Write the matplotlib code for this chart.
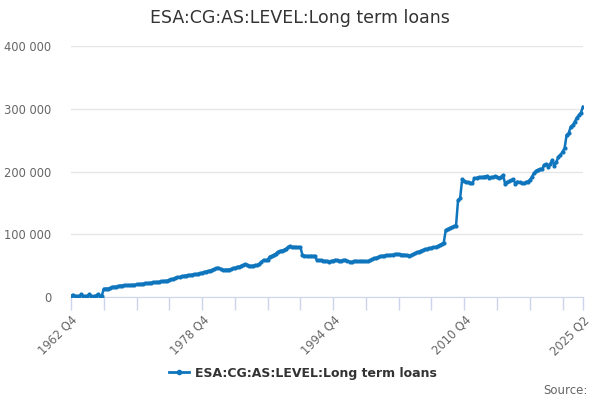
import matplotlib
matplotlib.use("Agg")
import matplotlib.pyplot as plt
import numpy as np
from matplotlib.ticker import FuncFormatter

TITLE = "ESA:CG:AS:LEVEL:Long term loans"
START_YEAR, START_Q = 1962, 4

# quarterly levels, thousands (1962 Q4 .. 2025 Q2)
LEVELS_K = [
    1.5,                         # 1962 Q4
    3.5, 1.5, 1.0, 1.5,          # 1963
    4.0, 1.5, 1.2, 1.5,          # 1964
    4.0, 1.5, 1.2, 1.8,          # 1965
    4.2, 1.8, 1.5, 13.0,         # 1966
    13.2, 13.5, 14.0, 16.0,      # 1967
    16.2, 16.5, 17.0, 18.2,      # 1968
    18.3, 18.5, 18.6, 18.8,      # 1969
    19.0, 19.2, 19.4, 20.0,      # 1970
    20.3, 20.6, 21.0, 21.8,      # 1971
    22.0, 22.3, 22.6, 23.4,      # 1972
    23.6, 23.8, 24.2, 24.8,      # 1973
    25.2, 25.5, 26.0, 27.5,      # 1974
    28.0, 29.0, 30.5, 31.5,      # 1975
    32.0, 32.8, 33.5, 34.2,      # 1976
    34.6, 35.0, 35.5, 36.0,      # 1977
    36.3, 37.0, 37.5, 38.5,      # 1978
    39.5, 40.5, 41.2, 42.0,      # 1979
    43.5, 44.5, 45.5, 46.7,      # 1980
    45.0, 43.0, 43.3, 43.6,      # 1981
    43.8, 44.0, 45.5, 46.5,      # 1982
    47.5, 48.3, 49.5, 51.0,      # 1983
    52.0, 51.5, 50.0, 49.4,      # 1984
    50.0, 50.5, 51.0, 53.0,      # 1985
    56.0, 59.0, 58.5, 59.0,      # 1986
    64.3, 65.5, 67.0, 69.0,      # 1987
    72.0, 73.0, 74.0, 75.0,      # 1988
    77.0, 79.0, 81.3, 79.0,      # 1989
    80.0, 79.5, 79.0, 79.5,      # 1990
    67.0, 66.0, 65.5, 65.0,      # 1991
    65.5, 65.0, 65.3, 59.0,      # 1992
    58.5, 58.5, 58.0, 57.5,      # 1993
    57.0, 56.3, 57.0, 58.0,      # 1994
    59.0, 58.5, 58.0, 57.8,      # 1995
    58.5, 59.0, 57.5, 56.5,      # 1996
    55.8, 57.0, 57.5, 56.8,      # 1997
    57.0, 57.4, 57.0, 56.8,      # 1998
    56.9, 58.5, 60.0, 61.7,      # 1999
    62.5, 63.5, 64.9, 65.5,      # 2000
    66.0, 66.5, 66.5, 67.0,      # 2001
    67.5, 68.0, 68.5, 68.0,      # 2002
    67.5, 67.5, 67.0, 66.5,      # 2003
    65.8, 66.5, 68.0, 69.6,      # 2004
    71.0, 72.5, 74.0, 75.0,      # 2005
    76.0, 77.0, 77.6, 78.5,      # 2006
    79.2, 80.0, 81.0, 82.9,      # 2007
    84.5, 86.6, 106.8, 108.5,    # 2008
    110.0, 111.0, 112.5, 113.7,  # 2009
    154.6, 157.3, 187.6, 185.0,  # 2010
    183.3, 182.5, 182.0, 181.2,  # 2011
    189.1, 190.0, 190.7, 190.5,  # 2012
    191.0, 192.0, 192.8, 190.1,  # 2013
    190.5, 191.0, 192.3, 191.0,  # 2014
    190.2, 191.5, 194.4, 179.6,  # 2015
    182.7, 184.5, 186.0, 187.6,  # 2016
    180.0, 184.0, 182.7, 182.0,  # 2017
    181.2, 182.5, 184.0, 186.5,  # 2018
    191.0, 197.1, 200.8, 202.5,  # 2019
    204.0, 203.5, 210.4, 212.0,  # 2020
    207.7, 212.0, 218.3, 209.2,  # 2021
    215.0, 223.6, 226.3, 231.6,  # 2022
    237.0, 258.2, 260.9, 271.4,  # 2023
    274.1, 279.4, 285.8, 290.0,  # 2024
    294.0, 303.3,                # 2025
]
TICK_LABELS = ["1962 Q4", "1978 Q4", "1994 Q4", "2010 Q4", "2025 Q2"]

BLUE = "#0f75bd"
GRID = "#e6e6e6"
AXIS = "#ccd6eb"
TEXT = "#333333"
LABEL = "#666666"


def quarter_names(n):
    names = []
    y, q = START_YEAR, START_Q
    for _ in range(n):
        names.append(f"{y} Q{q}")
        q += 1
        if q > 4:
            y, q = y + 1, 1
    return names


values = np.array(LEVELS_K) * 1000
x = np.arange(len(values))
quarters = quarter_names(len(values))

fig = plt.figure(figsize=(6, 4), dpi=100)
ax = fig.add_axes([71 / 600, 1 - 297 / 400, 512 / 600, 251 / 400])

ax.plot(x, values, color=BLUE, linewidth=1.8, marker="o", markersize=3,
        markeredgewidth=0, zorder=3)

ax.set_xlim(0, len(values) - 1)
ax.set_ylim(0, 400000)
ax.set_yticks([0, 100000, 200000, 300000, 400000])
ax.yaxis.set_major_formatter(FuncFormatter(lambda v, _: f"{int(v):,}".replace(",", " ")))
ax.grid(axis="y", color=GRID, linewidth=1)
ax.set_axisbelow(True)

minor = list(range(0, len(values), 16)) + [len(values) - 1]
major = [quarters.index(lbl) for lbl in TICK_LABELS]
ax.set_xticks(minor, minor=True)
ax.set_xticks(major)
ax.set_xticklabels(TICK_LABELS, rotation=45, ha="right", rotation_mode="anchor")
ax.tick_params(axis="x", which="both", length=9, color=AXIS, width=1,
               labelsize=8.3, labelcolor=LABEL, pad=3)
ax.tick_params(axis="y", length=0, labelsize=8.3, labelcolor=LABEL, pad=14)

for side in ("left", "right", "top"):
    ax.spines[side].set_visible(False)
ax.spines["bottom"].set_color(AXIS)

fig.text(0.5, 1 - 18 / 400, TITLE, ha="center", va="center", fontsize=12.5, color=TEXT)

ax.plot([], [], color=BLUE, linewidth=2, marker="o", markersize=3, label=TITLE)
leg = fig.legend(loc="center", bbox_to_anchor=(0.505, 1 - 373 / 400), frameon=False,
                 handlelength=1.6, handletextpad=0.5, prop={"weight": "bold", "size": 9})
for t in leg.get_texts():
    t.set_color(TEXT)

fig.text(588 / 600, 1 - 390 / 400, "Source:", ha="right", va="center", fontsize=8.5, color=LABEL)

fig.savefig("out.png", dpi=100)
